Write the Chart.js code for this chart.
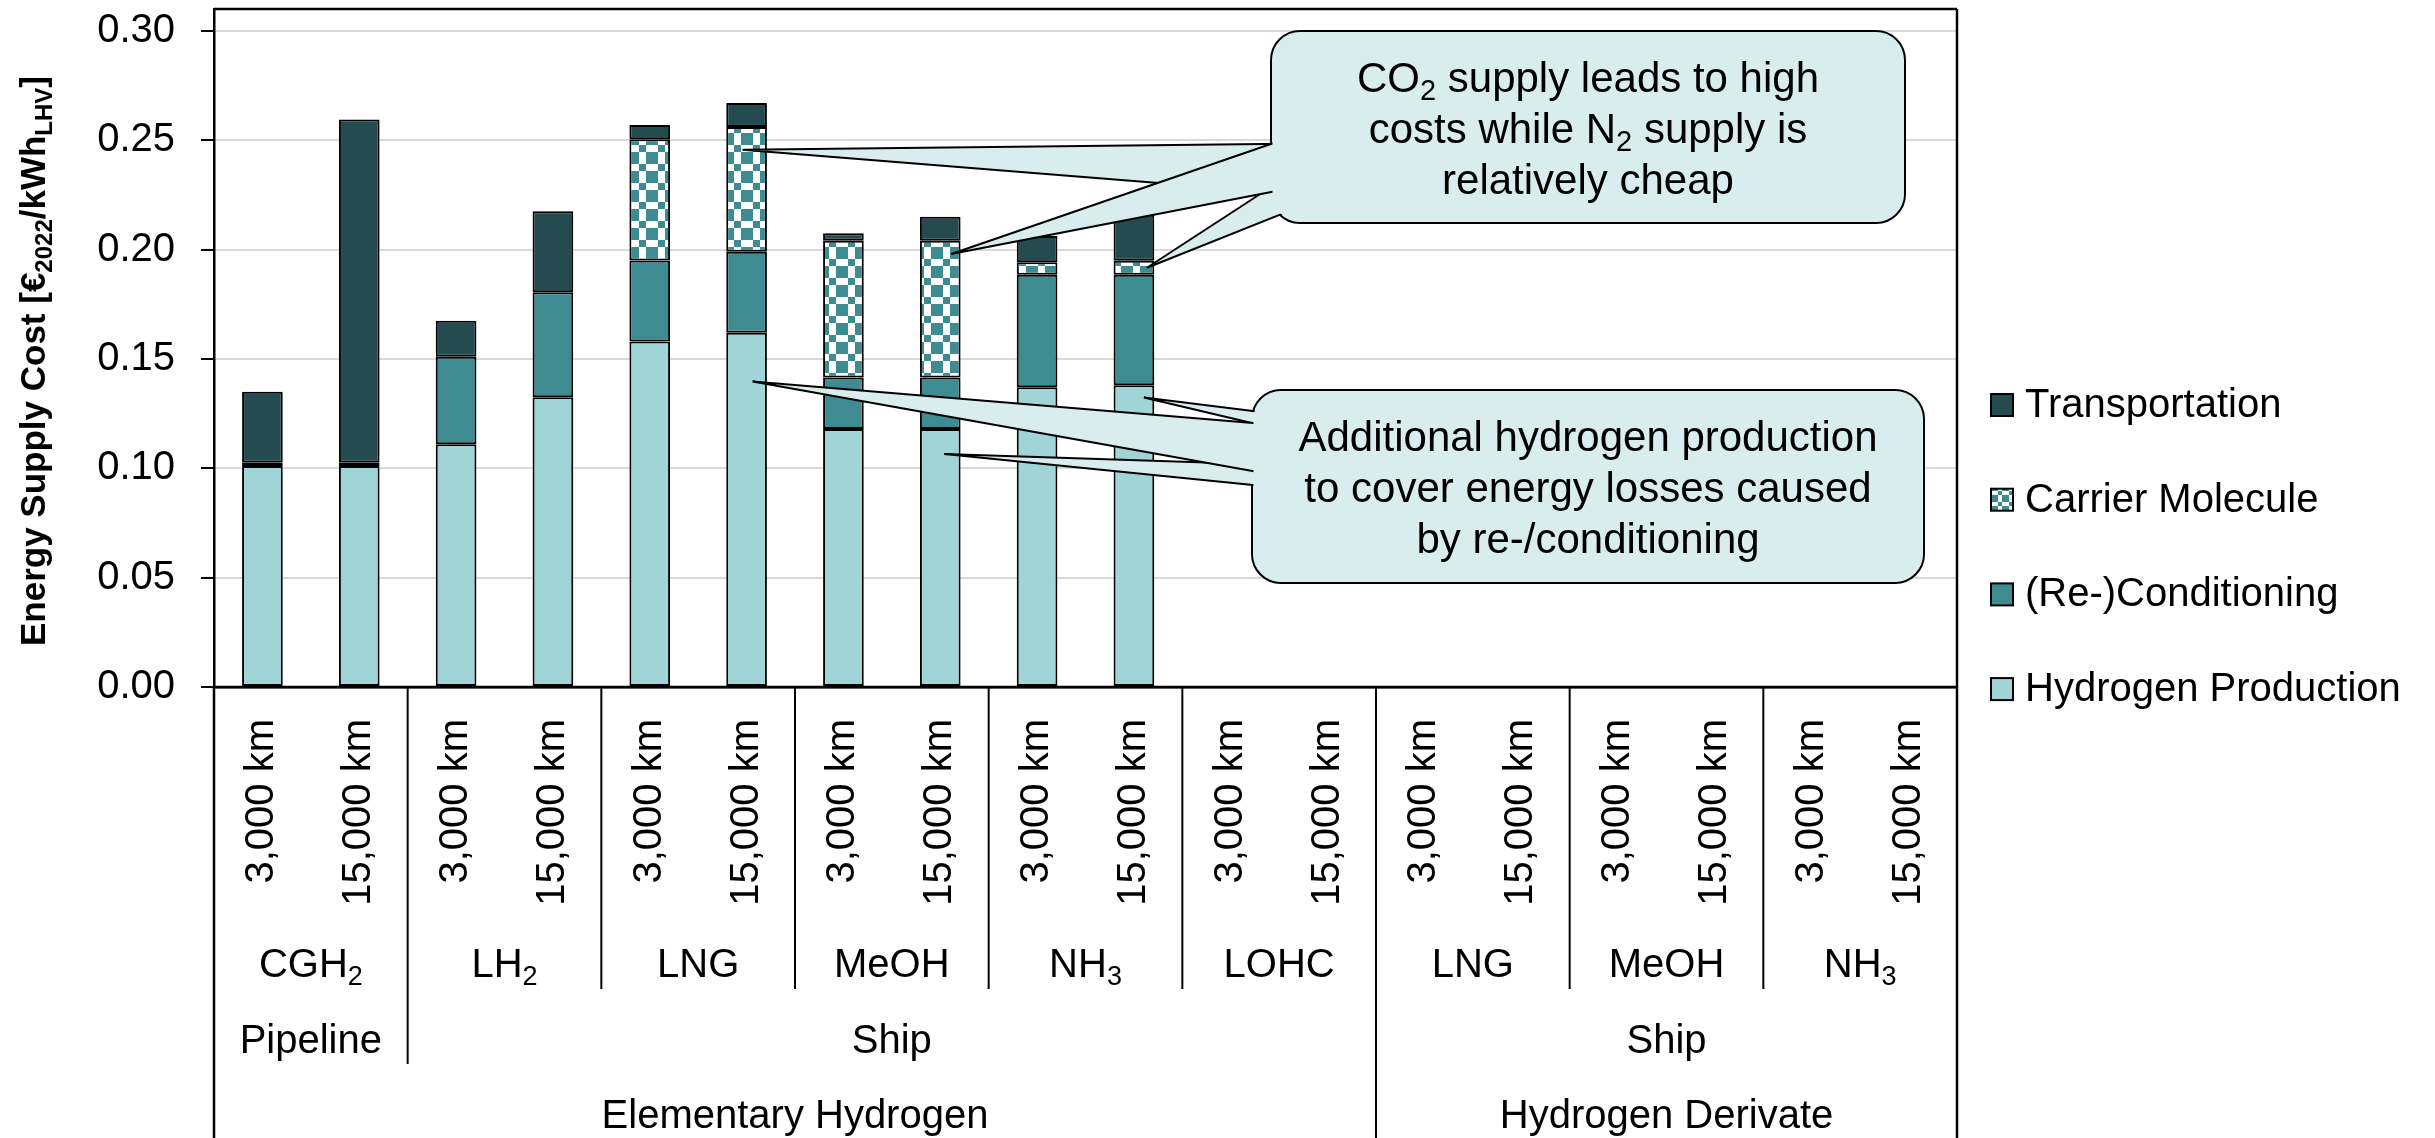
<!DOCTYPE html>
<html>
<head>
<meta charset="utf-8">
<script src="https://cdn.jsdelivr.net/npm/chart.js@4.4.1/dist/chart.umd.min.js"></script>
<style>
  html, body { margin: 0; padding: 0; background: #fff; }
  canvas { display: block; }
</style>
</head>
<body>
<canvas id="costChart" width="2435" height="1138"></canvas>
<script>
const FONT = '"Liberation Sans", Arial, sans-serif';

// x axis levels: distance per bar, carrier per pair, transport mode, family
const distances = ['3,000 km', '15,000 km'];
const carriers = ['CGH2', 'LH2', 'LNG', 'MeOH', 'NH3', 'LOHC', 'LNG', 'MeOH', 'NH3'];
const modes = ['Pipeline', 'Ship', 'Ship'];
const modeSpans = [1, 5, 3];
const families = ['Elementary Hydrogen', 'Hydrogen Derivate'];
const familySpans = [6, 3];

const seriesNames = ['Hydrogen Production', '(Re-)Conditioning', 'Carrier Molecule', 'Transportation'];
const hydrogenProduction = [0.101, 0.101, 0.111, 0.1325, 0.158, 0.162, 0.118, 0.118, 0.137, 0.138, null, null, null, null, null, null, null, null];
const conditioning       = [0.0015, 0.0015, 0.040, 0.048, 0.037, 0.037, 0.0235, 0.0235, 0.0515, 0.0505, null, null, null, null, null, null, null, null];
const carrierMolecule    = [null, null, null, null, 0.0555, 0.057, 0.0625, 0.0625, 0.0057, 0.0064, null, null, null, null, null, null, null, null];
const transportation     = [0.0325, 0.157, 0.0165, 0.037, 0.0065, 0.011, 0.0035, 0.011, 0.012, 0.021, null, null, null, null, null, null, null, null];

const yTicks = [0, 0.05, 0.10, 0.15, 0.20, 0.25, 0.30];

const callout1Lines = ['CO2 supply leads to high', 'costs while N2 supply is', 'relatively cheap'];
const callout2Lines = ['Additional hydrogen production', 'to cover energy losses caused', 'by re-/conditioning'];

const labels = carriers.flatMap(() => distances);

const colLight = '#a0d4d7';
const colMid = '#3e8c92';
const colDark = '#244b50';
const calloutFill = '#daedee';

const canvas = document.getElementById('costChart');
const ctx = canvas.getContext('2d');

function checker(big, small) {
  const c = document.createElement('canvas');
  c.width = c.height = big + small;
  const g = c.getContext('2d');
  g.fillStyle = '#fff';
  g.fillRect(0, 0, big + small, big + small);
  g.fillStyle = colMid;
  g.fillRect(0, 0, big, big);
  g.fillRect(big, big, small, small);
  return ctx.createPattern(c, 'repeat');
}
const barChecker = checker(12, 7);
const legendChecker = checker(7, 4);

// digits right after a letter are chemical subscripts
function formulaRuns(text) {
  const runs = [];
  let prevSub = false;
  for (let i = 0; i < text.length; i++) {
    const ch = text[i];
    const sub = /\d/.test(ch) && i > 0 && (/[A-Za-z]/.test(text[i - 1]) || prevSub);
    prevSub = sub;
    const last = runs[runs.length - 1];
    if (last && last.sub === sub) last.text += ch;
    else runs.push({ text: ch, sub });
  }
  return runs;
}

function drawRuns(c, runs, x, y, size, align, weight) {
  weight = weight || 'normal';
  const subSize = Math.round(size * 0.68);
  const mainFont = weight + ' ' + size + 'px ' + FONT;
  const subFont = weight + ' ' + subSize + 'px ' + FONT;
  let total = 0;
  runs.forEach(r => { c.font = r.sub ? subFont : mainFont; r.w = c.measureText(r.text).width; total += r.w; });
  let cx = align === 'center' ? x - total / 2 : (align === 'right' ? x - total : x);
  c.textAlign = 'left';
  c.textBaseline = 'alphabetic';
  runs.forEach(r => {
    c.font = r.sub ? subFont : mainFont;
    c.fillText(r.text, cx, y + (r.sub ? size * 0.2 : 0));
    cx += r.w;
  });
}

const callouts = [
  {
    lines: callout1Lines, box: { x: 1271, y: 31, w: 634, h: 192 },
    wedges: [
      { bar: 5, value: 0.2456, dx: -4, base: [[1271, 144], [1271, 192]] },
      { bar: 9, value: 0.1917, dx: 13, base: [[1271, 187], [1279, 215]] },
      { bar: 7, value: 0.198, dx: 11, base: [[1271, 144], [1271, 192]] }
    ]
  },
  {
    lines: callout2Lines, box: { x: 1252, y: 390, w: 672, h: 193 },
    wedges: [
      { bar: 7, value: 0.1065, dx: 4, base: [[1252, 464], [1252, 485]] },
      { bar: 9, value: 0.1324, dx: 10, base: [[1253, 411], [1252, 423]] },
      { bar: 5, value: 0.1397, dx: 6, base: [[1252, 423], [1252, 471]] }
    ]
  }
];

function roundRect(c, x, y, w, h, r) {
  c.beginPath();
  c.moveTo(x + r, y);
  c.arcTo(x + w, y, x + w, y + h, r);
  c.arcTo(x + w, y + h, x, y + h, r);
  c.arcTo(x, y + h, x, y, r);
  c.arcTo(x, y, x + w, y, r);
  c.closePath();
}

const calloutPlugin = {
  id: 'callouts',
  afterDatasetsDraw(chart) {
    const { ctx: c, scales: { x, y } } = chart;
    c.save();
    c.lineWidth = 2;
    c.strokeStyle = '#000';
    c.lineJoin = 'miter';
    callouts.forEach(co => {
      const b = co.box;
      roundRect(c, b.x, b.y, b.w, b.h, 29);
      c.fillStyle = calloutFill;
      c.fill();
      c.stroke();
      co.wedges.forEach(wd => {
        const tx = x.getPixelForValue(wd.bar) + wd.dx;
        const ty = y.getPixelForValue(wd.value);
        const ext = wd.base.map(([px, py]) => {
          const dx = px - tx, dy = py - ty, len = Math.hypot(dx, dy);
          return [px + dx / len * 16, py + dy / len * 16];
        });
        c.beginPath();
        c.moveTo(tx, ty);
        c.lineTo(ext[0][0], ext[0][1]);
        c.lineTo(ext[1][0], ext[1][1]);
        c.closePath();
        c.fillStyle = calloutFill;
        c.fill();
        c.beginPath();
        c.moveTo(ext[0][0], ext[0][1]);
        c.lineTo(tx, ty);
        c.lineTo(ext[1][0], ext[1][1]);
        c.stroke();
      });
      roundRect(c, b.x + 1.5, b.y + 1.5, b.w - 3, b.h - 3, 27.5);
      c.fillStyle = calloutFill;
      c.fill();
      c.fillStyle = '#000';
      co.lines.forEach((ln, i) => {
        drawRuns(c, formulaRuns(ln), b.x + b.w / 2, b.y + 61 + i * 51, 42, 'center');
      });
    });
    c.restore();
  }
};

const axisDecor = {
  id: 'axisDecor',
  afterDraw(chart) {
    const { ctx: c, chartArea: a, scales: { x } } = chart;
    const H = chart.height;
    const w = (x.right - x.left) / labels.length;
    const edge = i => x.left + i * w;
    const line = (x1, y1, x2, y2) => { c.beginPath(); c.moveTo(x1, y1); c.lineTo(x2, y2); c.stroke(); };
    c.save();
    c.strokeStyle = '#000';
    c.lineWidth = 2.5;
    line(a.left, a.top, a.right, a.top);
    line(a.right, a.top, a.right, H);
    line(a.left, a.bottom, a.left, H);
    line(a.left, a.bottom, a.right, a.bottom);

    // separators: carrier level, mode level, family level
    const depth = {};
    for (let k = 1; k < carriers.length; k++) depth[k] = a.bottom + 302;
    let acc = 0;
    modeSpans.slice(0, -1).forEach(s => { acc += s; depth[acc] = a.bottom + 377; });
    acc = 0;
    familySpans.slice(0, -1).forEach(s => { acc += s; depth[acc] = H; });
    c.lineWidth = 2;
    Object.keys(depth).forEach(k => line(edge(2 * k), a.bottom, edge(2 * k), depth[k]));

    c.fillStyle = '#000';
    // distance labels, rotated
    labels.forEach((lb, i) => {
      c.save();
      c.translate(x.getPixelForValue(i), a.bottom + 32);
      c.rotate(-Math.PI / 2);
      c.font = '40px ' + FONT;
      c.textAlign = 'right';
      c.textBaseline = 'middle';
      c.fillText(lb, 0, 0);
      c.restore();
    });
    // carrier labels
    carriers.forEach((cr, k) => {
      drawRuns(c, formulaRuns(cr), (edge(2 * k) + edge(2 * k + 2)) / 2, a.bottom + 290, 40, 'center');
    });
    acc = 0;
    modes.forEach((m, k) => {
      const cx = (edge(2 * acc) + edge(2 * (acc + modeSpans[k]))) / 2;
      acc += modeSpans[k];
      drawRuns(c, [{ text: m, sub: false }], cx, a.bottom + 366, 40, 'center');
    });
    acc = 0;
    families.forEach((f, k) => {
      const cx = (edge(2 * acc) + edge(2 * (acc + familySpans[k]))) / 2;
      acc += familySpans[k];
      drawRuns(c, [{ text: f, sub: false }], cx, a.bottom + 441, 40, 'center');
    });

    // y axis title with subscripts
    c.save();
    c.translate(45, (a.top + a.bottom) / 2 + 13);
    c.rotate(-Math.PI / 2);
    drawRuns(c, [
      { text: 'Energy Supply Cost [€', sub: false },
      { text: '2022', sub: true },
      { text: '/kWh', sub: false },
      { text: 'LHV', sub: true },
      { text: ']', sub: false }
    ], 0, 0, 35, 'center', 'bold');
    c.restore();

    // legend, top to bottom = stack top to bottom
    const ds = chart.data.datasets.slice().reverse();
    ds.forEach((d, i) => {
      const cy = 405 + i * 94.7;
      const bx = a.right + 34;
      c.fillStyle = d.label === 'Carrier Molecule' ? legendChecker : d.backgroundColor;
      c.fillRect(bx, cy - 11, 22, 22);
      c.lineWidth = 2;
      c.strokeRect(bx, cy - 11, 22, 22);
      c.fillStyle = '#000';
      c.font = '40px ' + FONT;
      c.textAlign = 'left';
      c.textBaseline = 'middle';
      c.fillText(d.label, bx + 34, cy + 1);
    });
    c.restore();
  }
};

const seriesData = [hydrogenProduction, conditioning, carrierMolecule, transportation];
const seriesFill = [colLight, colMid, barChecker, colDark];

const costChart = new Chart(ctx, {
  type: 'bar',
  data: {
    labels: labels,
    datasets: seriesNames.map((name, i) => ({
      label: name,
      data: seriesData[i],
      backgroundColor: seriesFill[i],
      borderColor: '#000',
      borderWidth: 2,
      borderSkipped: false,
      barPercentage: 0.42,
      categoryPercentage: 1.0
    }))
  },
  options: {
    responsive: false,
    animation: false,
    layout: { padding: { top: 9, right: 478, left: 0, bottom: 0 } },
    plugins: {
      legend: { display: false },
      tooltip: { enabled: false }
    },
    scales: {
      x: {
        stacked: true,
        grid: { display: false },
        border: { color: '#000', width: 2.5 },
        ticks: { display: false },
        afterFit(s) { s.height = 451; s.paddingLeft = 0; s.paddingRight = 0; }
      },
      y: {
        stacked: true,
        min: 0,
        max: 0.31,
        afterBuildTicks(s) { s.ticks = yTicks.map(v => ({ value: v })); },
        ticks: {
          callback: v => v.toFixed(2),
          color: '#000',
          font: { family: FONT, size: 40 },
          padding: 26
        },
        grid: { color: '#d9d9d9', lineWidth: 2, tickColor: '#000', tickLength: 13, tickWidth: 2 },
        border: { color: '#000', width: 2.5 },
        afterFit(s) { s.width = 214; s.paddingTop = 0; s.paddingBottom = 0; }
      }
    }
  },
  plugins: [calloutPlugin, axisDecor]
});
</script>
</body>
</html>
